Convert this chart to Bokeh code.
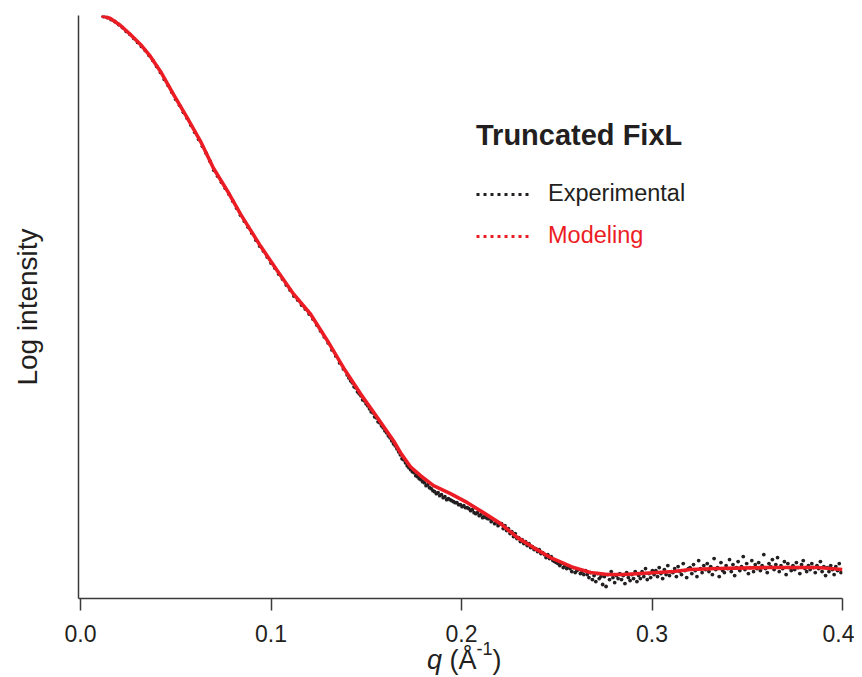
import numpy as np
from bokeh.plotting import figure
from bokeh.layouts import column
from bokeh.models import (Range1d, FixedTicker, NumeralTickFormatter, Legend, LegendItem, Div)
from bokeh.embed import file_html
from bokeh.resources import INLINE

# ---------------- data (y = log intensity, arbitrary offset) -------------
x_ticks = [0.0, 0.1, 0.2, 0.3, 0.4]

model_q = [0.0110, 0.0157, 0.0210, 0.0262, 0.0315, 0.0367, 0.0420, 0.0488, 0.0562, 0.0630,
           0.0698, 0.0772, 0.0840, 0.0945, 0.1034, 0.1118, 0.1207, 0.1297, 0.1381, 0.1470,
           0.1559, 0.1643, 0.1680, 0.1732, 0.1785, 0.1853, 0.1942, 0.2031, 0.2115, 0.2205,
           0.2294, 0.2378, 0.2467, 0.2504, 0.2588, 0.2677, 0.2766, 0.2850, 0.2940, 0.3029,
           0.3113, 0.3202, 0.3344, 0.3606, 0.3869, 0.4000]
model_logI = [5.84, 5.81, 5.74, 5.65, 5.55, 5.43, 5.28, 5.05, 4.81, 4.58,
              4.31, 4.08, 3.85, 3.53, 3.28, 3.05, 2.85, 2.58, 2.31, 2.05,
              1.81, 1.58, 1.46, 1.32, 1.23, 1.13, 1.05, 0.96, 0.86, 0.75,
              0.61, 0.51, 0.41, 0.38, 0.31, 0.26, 0.24, 0.24, 0.25, 0.26,
              0.27, 0.29, 0.30, 0.31, 0.31, 0.29]

# experimental: low-q part (measurement grid 0.012 .. 0.138, step 0.002)
exp_low_q_start, exp_low_q_step = 0.012, 0.002
exp_low_logI = [5.83, 5.82, 5.80, 5.78, 5.75, 5.72, 5.68, 5.65, 5.61, 5.57,
                5.53, 5.49, 5.44, 5.39, 5.33, 5.27, 5.20, 5.14, 5.07, 5.00,
                4.94, 4.87, 4.81, 4.74, 4.67, 4.60, 4.53, 4.46, 4.38, 4.29,
                4.23, 4.17, 4.11, 4.05, 3.98, 3.91, 3.84, 3.78, 3.72, 3.66,
                3.59, 3.53, 3.48, 3.42, 3.36, 3.31, 3.25, 3.20, 3.14, 3.09,
                3.03, 2.99, 2.94, 2.90, 2.85, 2.80, 2.74, 2.68, 2.62, 2.56,
                2.49, 2.43, 2.36, 2.30]
# experimental: high-q part (measurement grid 0.140 .. 0.3992, step 0.0009)
exp_high_q_start, exp_high_q_step = 0.140, 0.0009
exp_high_logI = [2.24, 2.21, 2.18, 2.16, 2.12, 2.11, 2.07, 2.05, 2.03, 1.99,
                 1.98, 1.95, 1.93, 1.90, 1.87, 1.86, 1.82, 1.81, 1.77, 1.76,
                 1.73, 1.71, 1.68, 1.66, 1.63, 1.61, 1.58, 1.55, 1.53, 1.50,
                 1.47, 1.44, 1.40, 1.39, 1.36, 1.33, 1.31, 1.29, 1.27, 1.26,
                 1.23, 1.22, 1.20, 1.19, 1.17, 1.16, 1.13, 1.14, 1.11, 1.10,
                 1.08, 1.07, 1.05, 1.06, 1.03, 1.04, 1.01, 1.02, 0.99, 1.00,
                 0.99, 0.98, 0.97, 0.96, 0.96, 0.94, 0.94, 0.92, 0.93, 0.91,
                 0.91, 0.90, 0.88, 0.89, 0.86, 0.85, 0.86, 0.83, 0.84, 0.81,
                 0.82, 0.81, 0.80, 0.80, 0.77, 0.79, 0.75, 0.76, 0.73, 0.75,
                 0.75, 0.70, 0.73, 0.68, 0.70, 0.65, 0.67, 0.62, 0.65, 0.60,
                 0.61, 0.57, 0.59, 0.55, 0.57, 0.53, 0.55, 0.51, 0.52, 0.49,
                 0.50, 0.47, 0.49, 0.45, 0.46, 0.44, 0.41, 0.44, 0.40, 0.42,
                 0.38, 0.37, 0.36, 0.35, 0.33, 0.35, 0.31, 0.33, 0.30, 0.32,
                 0.30, 0.27, 0.31, 0.26, 0.28, 0.29, 0.25, 0.27, 0.24, 0.28,
                 0.24, 0.21, 0.26, 0.19, 0.23, 0.17, 0.25, 0.20, 0.22, 0.14,
                 0.22, 0.12, 0.24, 0.19, 0.27, 0.21, 0.16, 0.23, 0.20, 0.25,
                 0.19, 0.23, 0.15, 0.26, 0.21, 0.18, 0.24, 0.20, 0.27, 0.17,
                 0.23, 0.20, 0.27, 0.22, 0.30, 0.19, 0.25, 0.21, 0.28, 0.24,
                 0.28, 0.22, 0.31, 0.25, 0.20, 0.29, 0.24, 0.33, 0.23, 0.27,
                 0.26, 0.30, 0.22, 0.32, 0.27, 0.24, 0.35, 0.28, 0.21, 0.30,
                 0.31, 0.25, 0.34, 0.28, 0.22, 0.38, 0.30, 0.26, 0.33, 0.29,
                 0.35, 0.27, 0.32, 0.24, 0.40, 0.29, 0.31, 0.22, 0.36, 0.28,
                 0.26, 0.33, 0.30, 0.39, 0.27, 0.34, 0.23, 0.31, 0.37, 0.28,
                 0.32, 0.42, 0.29, 0.35, 0.25, 0.31, 0.38, 0.27, 0.34, 0.30,
                 0.36, 0.28, 0.33, 0.44, 0.30, 0.26, 0.35, 0.32, 0.39, 0.29,
                 0.34, 0.41, 0.27, 0.33, 0.30, 0.37, 0.24, 0.35, 0.31, 0.28,
                 0.33, 0.29, 0.36, 0.31, 0.25, 0.34, 0.38, 0.30, 0.27, 0.33,
                 0.29, 0.35, 0.31, 0.26, 0.33, 0.30, 0.37, 0.27, 0.32, 0.23,
                 0.31, 0.27, 0.33, 0.29, 0.24, 0.32, 0.28, 0.35, 0.26]

legend_title = "Truncated FixL"
series_names = ["Experimental", "Modeling"]
y_label = "Log intensity"

# ---------------- build ----------------
exp_q = np.concatenate([
    exp_low_q_start + exp_low_q_step * np.arange(len(exp_low_logI)),
    exp_high_q_start + exp_high_q_step * np.arange(len(exp_high_logI)),
])
exp_logI = np.array(exp_low_logI + exp_high_logI)

FONT = "Liberation Sans"
INK = "#231f20"
RED = "#ec1c24"
W = 854

p = figure(width=W, height=656, output_backend="svg", toolbar_location=None,
           x_range=Range1d(-0.00105, 0.4), y_range=Range1d(0, 5.84),
           min_border_left=78, min_border_right=12, min_border_top=15, min_border_bottom=58)
p.outline_line_color = None
p.grid.visible = False
p.background_fill_color = "white"

p.scatter(exp_q, exp_logI, size=3.8, color=INK, line_color=None)
p.line(model_q, model_logI, line_color=RED, line_width=3.6, line_join="round")

# legend sample renderers (dotted lines; a single NaN point so nothing is drawn in the plot)
nan = [float("nan")]
r_exp = p.line(nan, nan, line_color=INK, line_width=3, line_dash="3 4")
r_mod = p.line(nan, nan, line_color=RED, line_width=3, line_dash="3 4")

# x axis
xa = p.xaxis[0]
xa.ticker = FixedTicker(ticks=x_ticks)
xa.formatter = NumeralTickFormatter(format="0.0")
xa.minor_tick_line_color = None
xa.major_tick_out = 12
xa.major_tick_in = 0
xa.major_tick_line_width = 1.5
xa.major_tick_line_color = "#3a3a3a"
xa.axis_line_width = 1.5
xa.axis_line_color = "#3a3a3a"
xa.major_label_text_font = FONT
xa.major_label_text_font_size = "23px"
xa.major_label_text_color = INK
xa.major_label_standoff = 14
xa.axis_label = None

# y axis
ya = p.yaxis[0]
ya.ticker = FixedTicker(ticks=[])
ya.minor_tick_line_color = None
ya.major_tick_line_color = None
ya.axis_line_width = 1.5
ya.axis_line_color = "#3a3a3a"
ya.axis_label = y_label
ya.axis_label_text_font = FONT
ya.axis_label_text_font_size = "28px"
ya.axis_label_text_font_style = "normal"
ya.axis_label_text_color = INK
ya.axis_label_standoff = 36

# legends
common = dict(padding=0, margin=0, border_line_alpha=0, background_fill_alpha=0,
              glyph_width=56, glyph_height=26, label_height=26, label_standoff=16,
              label_text_font=FONT, label_text_font_size="23.5px", spacing=0)
leg1 = Legend(items=[LegendItem(label=series_names[0], renderers=[r_exp])],
              location=(398, 391), title=legend_title,
              title_text_font=FONT, title_text_font_size="29px", title_text_font_style="bold",
              title_text_color=INK, title_standoff=28, label_text_color=INK, **common)
leg2 = Legend(items=[LegendItem(label=series_names[1], renderers=[r_mod])],
              location=(398, 349), label_text_color=RED, **common)
p.add_layout(leg1)
p.add_layout(leg2)

# x axis label  q (Å^-1)  as real HTML text under the figure
xlab = Div(width=W, height=20,
           text=('<div style="position:relative; top:-22px; margin-left:422px; white-space:nowrap; '
                 f'font-family:\'{FONT}\'; font-size:27px; color:{INK}; line-height:normal;">'
                 '<i>q</i> (Å<span style="font-size:18px; vertical-align:14px;">-1</span>)</div>'))

layout = column(p, xlab, spacing=0)
open("out.html", "w").write(file_html(layout, INLINE))
